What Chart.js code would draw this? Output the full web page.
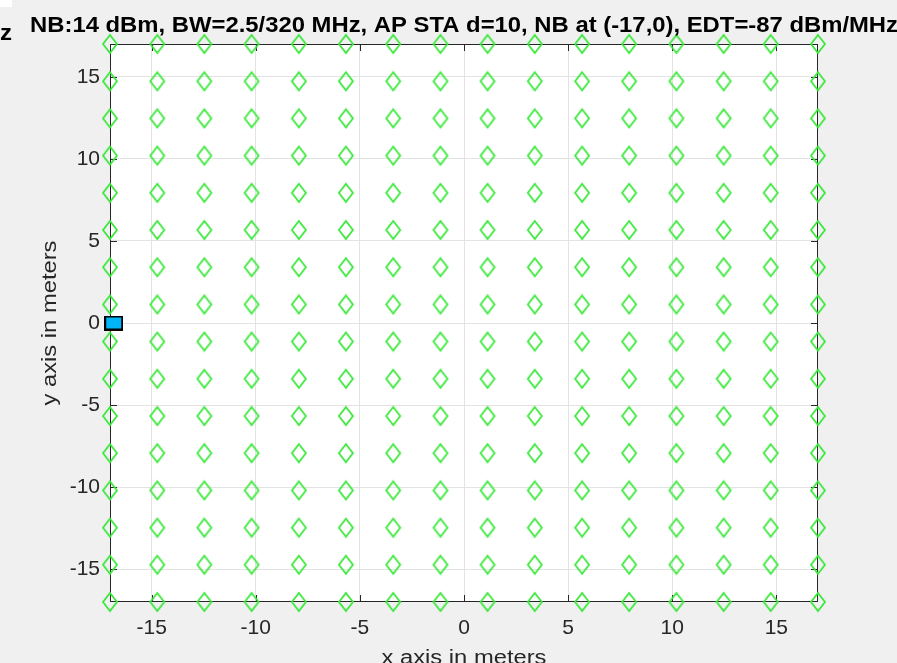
<!DOCTYPE html>
<html>
<head>
<meta charset="utf-8">
<script src="https://cdn.jsdelivr.net/npm/chart.js@4"></script>
<style>
  html, body { margin: 0; padding: 0; background: #f0f0f0; }
</style>
</head>
<body>
<canvas id="myChart" width="897" height="663"></canvas>
<script>
// chart data
const titleText = 'NB:14 dBm, BW=2.5/320 MHz, AP STA d=10, NB at (-17,0), EDT=-87 dBm/MHz';
const xLabel = 'x axis in meters';
const yLabel = 'y axis in meters';
const gridX = [-17, -14.73, -12.47, -10.2, -7.93, -5.67, -3.4, -1.13, 1.13, 3.4, 5.67, 7.93, 10.2, 12.47, 14.73, 17];
const gridY = [-17, -14.73, -12.47, -10.2, -7.93, -5.67, -3.4, -1.13, 1.13, 3.4, 5.67, 7.93, 10.2, 12.47, 14.73, 17];
const nbX = [-16.82];
const nbY = [0];
const xTicks = [-15, -10, -5, 0, 5, 10, 15];
const yTicks = [-15, -10, -5, 0, 5, 10, 15];

const staPoints = [];
gridX.forEach(x => gridY.forEach(y => staPoints.push({ x: x, y: y })));
const nbPoints = nbX.map((x, i) => ({ x: x, y: nbY[i] }));

// marker images (matlab diamonds are taller than wide)
function diamondMarker(w, h, color) {
  const c = document.createElement('canvas');
  c.width = w + 4; c.height = h + 4;
  const g = c.getContext('2d');
  g.strokeStyle = color;
  g.lineWidth = 1.8;
  g.beginPath();
  g.moveTo(c.width / 2, 2);
  g.lineTo(c.width - 2, c.height / 2);
  g.lineTo(c.width / 2, c.height - 2);
  g.lineTo(2, c.height / 2);
  g.closePath();
  g.stroke();
  return c;
}
function boxMarker(w, h, fill) {
  const c = document.createElement('canvas');
  c.width = w; c.height = h;
  const g = c.getContext('2d');
  g.fillStyle = fill;
  g.fillRect(0, 0, w, h);
  g.strokeStyle = '#000';
  g.lineWidth = 2;
  g.strokeRect(1, 1, w - 2, h - 2);
  return c;
}

const axisColor = '#262626';
const fontFam = 'Arial, "Liberation Sans", sans-serif';

// text stretched to the width it has in the matlab figure
function wideText(ctx, text, x, y, width) {
  const w = ctx.measureText(text).width;
  ctx.save();
  ctx.translate(x, y);
  ctx.scale(width / w, 1);
  ctx.fillText(text, 0, 0);
  ctx.restore();
}

const matlabLook = {
  id: 'matlabLook',
  beforeDraw(chart) {
    const { ctx, chartArea: a } = chart;
    ctx.save();
    ctx.fillStyle = '#f0f0f0';
    ctx.fillRect(0, 0, chart.width, chart.height);
    ctx.fillStyle = '#ffffff';
    ctx.fillRect(a.left, a.top, a.right - a.left, a.bottom - a.top);
    ctx.fillRect(0, 0, 12, 7);
    ctx.restore();
  },
  beforeDatasetsDraw(chart) {
    const { ctx, chartArea: a, scales } = chart;
    ctx.save();
    ctx.strokeStyle = axisColor;
    ctx.lineWidth = 1;
    ctx.strokeRect(a.left + 0.5, a.top + 0.5, a.right - a.left - 1, a.bottom - a.top - 1);
    ctx.beginPath();
    const t = 7;
    xTicks.forEach(v => {
      const px = Math.round(scales.x.getPixelForValue(v)) + 0.5;
      ctx.moveTo(px, a.bottom); ctx.lineTo(px, a.bottom - t);
      ctx.moveTo(px, a.top); ctx.lineTo(px, a.top + t);
    });
    yTicks.forEach(v => {
      const py = Math.round(scales.y.getPixelForValue(v)) + 0.5;
      ctx.moveTo(a.left, py); ctx.lineTo(a.left + t, py);
      ctx.moveTo(a.right, py); ctx.lineTo(a.right - t, py);
    });
    ctx.stroke();
    ctx.restore();
  },
  afterDraw(chart) {
    const { ctx, chartArea: a } = chart;
    const mid = (a.left + a.right) / 2;
    ctx.save();
    ctx.fillStyle = '#000';
    ctx.font = 'bold 22px ' + fontFam;
    ctx.textAlign = 'center';
    ctx.textBaseline = 'alphabetic';
    wideText(ctx, titleText, mid, 32, 868);
    ctx.textAlign = 'left';
    wideText(ctx, 'z', 0, 40, 12);
    ctx.fillStyle = axisColor;
    ctx.font = '20px ' + fontFam;
    ctx.textAlign = 'center';
    wideText(ctx, xLabel, mid, 664, 165);
    ctx.translate(50, (a.top + a.bottom) / 2);
    ctx.rotate(-Math.PI / 2);
    wideText(ctx, yLabel, 0, 6, 165);
    ctx.restore();
  }
};

const ctx = document.getElementById('myChart');

new Chart(ctx, {
  type: 'scatter',
  data: {
    datasets: [
      {
        label: 'STA',
        data: staPoints,
        pointStyle: diamondMarker(14, 18, '#3be83b'),
        pointRadius: 8,
        clip: false
      },
      {
        label: 'NB',
        data: nbPoints,
        pointStyle: boxMarker(19, 15, '#00b4f5'),
        pointRadius: 8,
        clip: false
      }
    ]
  },
  plugins: [matlabLook],
  options: {
    responsive: false,
    animation: false,
    devicePixelRatio: 1,
    layout: { padding: { left: 0, right: 79, top: 44, bottom: 0 } },
    plugins: {
      legend: { display: false },
      tooltip: { enabled: false }
    },
    scales: {
      x: {
        type: 'linear',
        min: -17,
        max: 17,
        afterBuildTicks: s => { s.ticks = xTicks.map(v => ({ value: v })); },
        afterFit: s => { s.height = 61; },
        border: { display: false },
        grid: { color: '#e3e3e3', drawTicks: false },
        ticks: {
          color: axisColor,
          padding: 14,
          maxRotation: 0,
          font: { family: fontFam, size: 21 }
        }
      },
      y: {
        type: 'linear',
        min: -17,
        max: 17,
        afterBuildTicks: s => { s.ticks = yTicks.map(v => ({ value: v })); },
        afterFit: s => { s.width = 110; },
        border: { display: false },
        grid: { color: '#e3e3e3', drawTicks: false },
        ticks: {
          color: axisColor,
          padding: 10,
          font: { family: fontFam, size: 21 }
        }
      }
    }
  }
});
</script>
</body>
</html>
